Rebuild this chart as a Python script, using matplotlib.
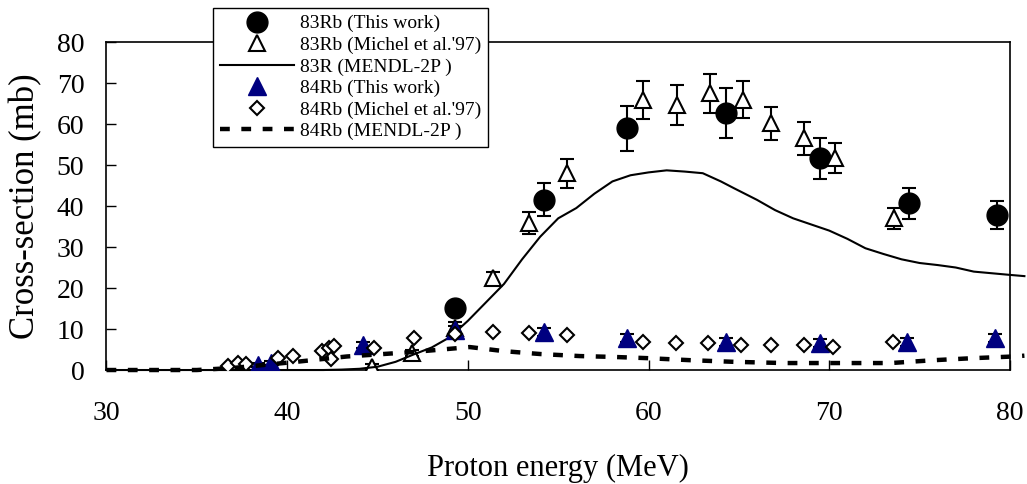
import matplotlib
matplotlib.use("Agg")
import matplotlib.pyplot as plt

plt.rcParams['font.family'] = ['Liberation Serif', 'DejaVu Serif']

# 83Rb (This work)
e83_this = [49.3, 54.2, 58.8, 64.3, 69.5, 74.4, 79.3]
cs83_this = [15.1, 41.5, 59.0, 62.7, 51.7, 40.7, 37.8]
err83_this = [1.5, 4.0, 5.5, 6.0, 5.0, 3.8, 3.5]

# 83Rb (Michel et al.'97)
e83_mich = [44.7, 46.9, 49.3, 51.4, 53.4, 55.5, 59.7, 61.6, 63.4, 65.2, 66.8, 68.6, 70.3, 73.6]
cs83_mich = [0.7, 4.1, 10.2, 22.4, 35.9, 48.0, 65.9, 64.6, 67.5, 65.9, 60.2, 56.5, 51.7, 37.0]
err83_mich = [0.8, 0.8, 1.5, 1.5, 2.7, 3.5, 4.7, 4.8, 4.7, 4.5, 4.0, 4.0, 3.7, 2.5]

# 83R (MENDL-2P)
e83_mendl = [30, 35, 40, 42, 43, 44, 45, 46, 47, 48, 49, 50, 51, 52, 53, 54, 55, 56, 57,
             58, 59, 60, 61, 62, 63, 64, 64.7, 66, 67, 68, 69, 70, 71, 72, 73, 74, 75,
             76, 77, 78, 79, 80, 80.8]
cs83_mendl = [0, 0, 0, 0, 0.1, 0.3, 0.8, 2.0, 3.8, 5.5, 8.0, 12.0, 16.5, 21.0, 27.0, 32.5,
              37.0, 39.5, 43.0, 46.0, 47.5, 48.2, 48.7, 48.4, 48.0, 46.0, 44.4, 41.5, 39.0,
              37.0, 35.5, 34.0, 32.0, 29.7, 28.3, 27.0, 26.1, 25.6, 25.0, 24.0, 23.6,
              23.2, 22.9]

# 84Rb (This work)
e84_this = [38.4, 39.1, 44.2, 49.3, 54.2, 58.8, 64.3, 69.5, 74.3, 79.2]
cs84_this = [1.2, 1.7, 6.1, 9.8, 9.3, 7.8, 6.8, 6.6, 6.8, 7.8]
err84_this = [0.5, 0.5, 0.8, 1.0, 1.0, 1.0, 1.0, 1.0, 1.0, 1.0]

# 84Rb (Michel et al.'97)
e84_mich = [36.7, 37.3, 37.7, 39.5, 40.3, 41.9, 42.3, 42.6, 42.4, 44.8, 47.0, 49.3,
            51.4, 53.4, 55.5, 59.7, 61.5, 63.3, 65.1, 66.8, 68.6, 70.2, 73.5]
cs84_mich = [1.0, 1.7, 1.5, 2.9, 3.4, 4.7, 5.3, 5.9, 2.7, 5.4, 7.7, 8.9,
             9.3, 9.0, 8.6, 6.9, 6.5, 6.6, 6.1, 6.1, 6.1, 5.6, 6.8]

# 84Rb (MENDL-2P)
e84_mendl = [30, 35, 37, 40.5, 43.3, 47, 50.1, 52, 54, 56.2, 58, 59.9, 62.3, 64.7,
             67.5, 70.2, 73.4, 75.8, 78, 80.2, 80.8]
cs84_mendl = [0, 0, 0.5, 2.0, 3.3, 4.4, 5.6, 4.6, 3.9, 3.4, 3.2, 2.9, 2.4, 2.0,
              1.7, 1.7, 1.7, 2.4, 2.9, 3.3, 3.5]

navy = '#000080'

fig = plt.figure(figsize=(10.27, 4.84), dpi=100)
ax = fig.add_axes([0.1037, 0.2355, 0.8797, 0.6777])

# 83Rb this work
ax.errorbar(e83_this, cs83_this, yerr=err83_this, fmt='none', ecolor='black',
            elinewidth=1.5, capsize=5, capthick=1.5, zorder=3)
ax.plot(e83_this, cs83_this, 'o', color='black', markersize=15, zorder=3,
        label='83Rb (This work)')

# 83Rb Michel
ax.errorbar(e83_mich, cs83_mich, yerr=err83_mich, fmt='none', ecolor='black',
            elinewidth=1.5, capsize=5, capthick=1.5, zorder=4)
ax.plot(e83_mich, cs83_mich, '^', markerfacecolor='white', markeredgecolor='black',
        markeredgewidth=1.5, markersize=12, zorder=4, label="83Rb (Michel et al.'97)")

# 83 MENDL
ax.plot(e83_mendl, cs83_mendl, '-', color='black', linewidth=1.5, zorder=5,
        clip_on=False, label='83R (MENDL-2P )')

# 84Rb this work
ax.errorbar(e84_this, cs84_this, yerr=err84_this, fmt='none', ecolor='black',
            elinewidth=1.5, capsize=5, capthick=1.5, zorder=6)
ax.plot(e84_this, cs84_this, '^', color=navy, markersize=13, zorder=6,
        label='84Rb (This work)')

# 84Rb Michel
ax.plot(e84_mich, cs84_mich, 'D', markerfacecolor='white', markeredgecolor='black',
        markeredgewidth=1.5, markersize=7.5, zorder=7, label="84Rb (Michel et al.'97)")

# 84 MENDL
ax.plot(e84_mendl, cs84_mendl, color='black', linewidth=3.2, dashes=(2.2, 2.6),
        zorder=8, clip_on=False, label='84Rb (MENDL-2P )')

ax.set_xlim(30, 80)
ax.set_ylim(0, 80)
ax.set_xticks([30, 40, 50, 60, 70, 80])
ax.set_yticks(range(0, 81, 10))
ax.tick_params(axis='both', direction='in', length=7, width=1, labelsize=20)
ax.tick_params(axis='x', pad=22)
ax.tick_params(axis='y', pad=16)
for s in ax.spines.values():
    s.set_linewidth(1.2)

ax.set_ylabel('Cross-section (mb)', fontsize=25)
ax.yaxis.set_label_coords(-0.089, 0.5)
ax.yaxis.label.set_va('center')
ax.set_xlabel('Proton energy (MeV)', fontsize=22)
ax.xaxis.set_label_coords(0.5, -0.30)
ax.xaxis.label.set_va('center')

leg = ax.legend(loc='upper left', bbox_to_anchor=(0.2074, 0.9835),
                bbox_transform=fig.transFigure, fontsize=14, frameon=True,
                fancybox=False, framealpha=1, edgecolor='black', handlelength=3.8,
                handletextpad=0.3, labelspacing=0.2, borderpad=0.35, borderaxespad=0)
leg.get_frame().set_linewidth(1)
leg.set_zorder(20)

fig.savefig('out.png', dpi=100)
